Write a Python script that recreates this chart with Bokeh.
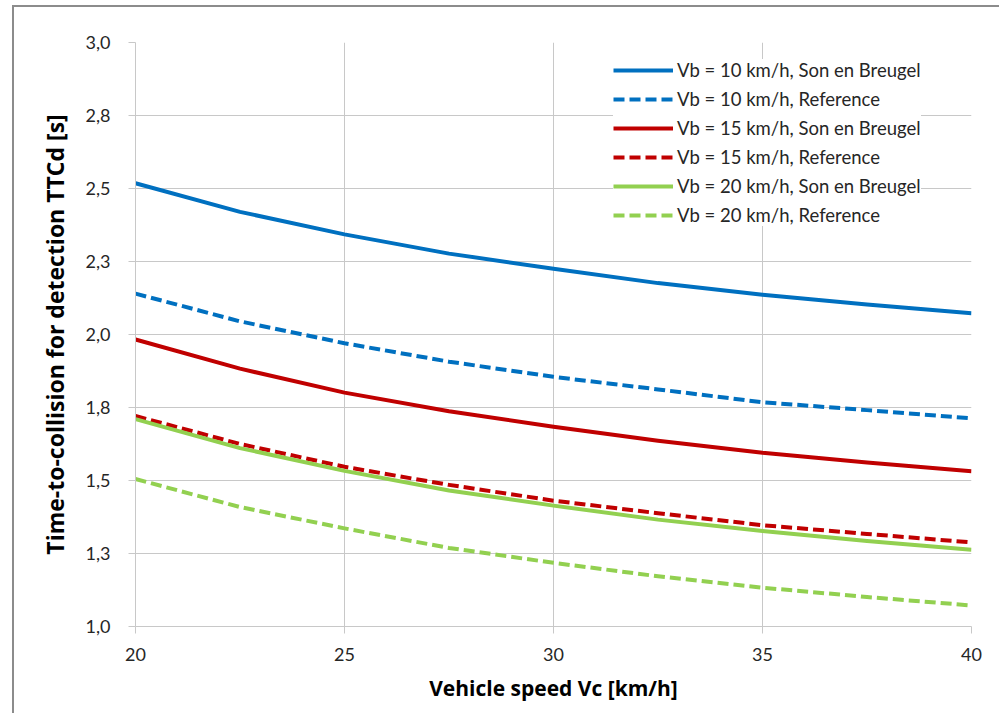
from bokeh.plotting import figure
from bokeh.models import FixedTicker, Legend, LegendItem
from bokeh.embed import file_html
from bokeh.resources import INLINE

# ---- data ----
vc = [20, 22.5, 25, 27.5, 30, 32.5, 35, 37.5, 40]
vb10_sonenbreugel = [2.518, 2.420, 2.343, 2.277, 2.225, 2.176, 2.136, 2.103, 2.073]
vb10_reference    = [2.140, 2.045, 1.970, 1.907, 1.855, 1.812, 1.768, 1.741, 1.713]
vb15_sonenbreugel = [1.983, 1.883, 1.801, 1.737, 1.684, 1.636, 1.595, 1.562, 1.532]
vb15_reference    = [1.721, 1.625, 1.547, 1.485, 1.431, 1.388, 1.347, 1.317, 1.288]
vb20_sonenbreugel = [1.710, 1.611, 1.533, 1.466, 1.414, 1.366, 1.327, 1.293, 1.263]
vb20_reference    = [1.505, 1.409, 1.336, 1.269, 1.218, 1.172, 1.133, 1.101, 1.072]

series_labels = [
    "Vb = 10 km/h, Son en Breugel",
    "Vb = 10 km/h, Reference",
    "Vb = 15 km/h, Son en Breugel",
    "Vb = 15 km/h, Reference",
    "Vb = 20 km/h, Son en Breugel",
    "Vb = 20 km/h, Reference",
]
x_ticks = [20, 25, 30, 35, 40]
y_ticks = [1.0, 1.25, 1.5, 1.75, 2.0, 2.25, 2.5, 2.75, 3.0]
y_tick_labels = ["1,0", "1,3", "1,5", "1,8", "2,0", "2,3", "2,5", "2,8", "3,0"]
x_title = "Vehicle speed Vc [km/h]"
y_title = "Time-to-collision for detection TTCd [s]"

BLUE, RED, GREEN = "#0070C0", "#C00000", "#92D050"
FONT = "Lato"
TITLE_FONT = "Open Sans"
GRID = "#c8c8c8"

p = figure(
    frame_width=836, frame_height=584,
    min_border_left=121, min_border_right=28, min_border_top=35, min_border_bottom=87,
    x_range=(20, 40), y_range=(1.0, 3.0),
    output_backend="svg", toolbar_location=None,
    background_fill_color="white", border_fill_color="white",
)
p.outline_line_color = None
# outer chart-area border (Excel chart frame)
p.margin = (5, 0, 0, 12)
p.styles = {
    "border-left": "2px solid #8c8c8c",
    "border-top": "2px solid #8c8c8c",
    "box-sizing": "content-box",
}

# axes
p.xaxis.ticker = FixedTicker(ticks=x_ticks)
p.yaxis.ticker = FixedTicker(ticks=y_ticks)
p.yaxis.major_label_overrides = {t: l for t, l in zip(y_ticks, y_tick_labels)}
for ax in (p.xaxis, p.yaxis):
    ax.axis_line_color = GRID
    ax.major_tick_line_color = GRID
    ax.major_tick_out = 7
    ax.major_tick_in = 0
    ax.minor_tick_line_color = None
    ax.major_label_text_font = FONT
    ax.major_label_text_font_size = "18px"
    ax.major_label_text_color = "#262626"
    ax.axis_label_text_font = TITLE_FONT
    ax.axis_label_text_font_style = "bold"
    ax.axis_label_text_color = "#000000"
p.xaxis.axis_label = x_title
p.yaxis.axis_label = y_title
p.xaxis.axis_label_text_font_size = "21px"
p.yaxis.axis_label_text_font_size = "23px"
p.yaxis.major_label_standoff = 18
p.xaxis.major_label_standoff = 14
p.yaxis.axis_label_standoff = 12
p.xaxis.axis_label_standoff = 10

p.xgrid.ticker = FixedTicker(ticks=x_ticks)
p.ygrid.ticker = FixedTicker(ticks=y_ticks)
p.grid.grid_line_color = GRID
p.grid.grid_line_width = 1

series = [
    (vb10_sonenbreugel, BLUE, "solid"),
    (vb10_reference, BLUE, "11 5"),
    (vb15_sonenbreugel, RED, "solid"),
    (vb15_reference, RED, "11 5"),
    (vb20_sonenbreugel, GREEN, "solid"),
    (vb20_reference, GREEN, "11 5"),
]
items = []
for (ys, col, dash), lab in zip(series, series_labels):
    r = p.line(vc, ys, line_color=col, line_width=4, line_dash=dash, line_join="round")
    items.append(LegendItem(label=lab, renderers=[r]))

legend = Legend(
    items=items, location=(478, 400),
    background_fill_color="white", background_fill_alpha=1.0,
    border_line_color=None,
    label_text_font=FONT, label_text_font_size="18.5px", label_text_color="#262626",
    glyph_width=60, glyph_height=20, label_height=20, label_standoff=4,
    spacing=7, padding=8, margin=0,
)
p.add_layout(legend)

open("out.html", "w").write(file_html(p, INLINE))
